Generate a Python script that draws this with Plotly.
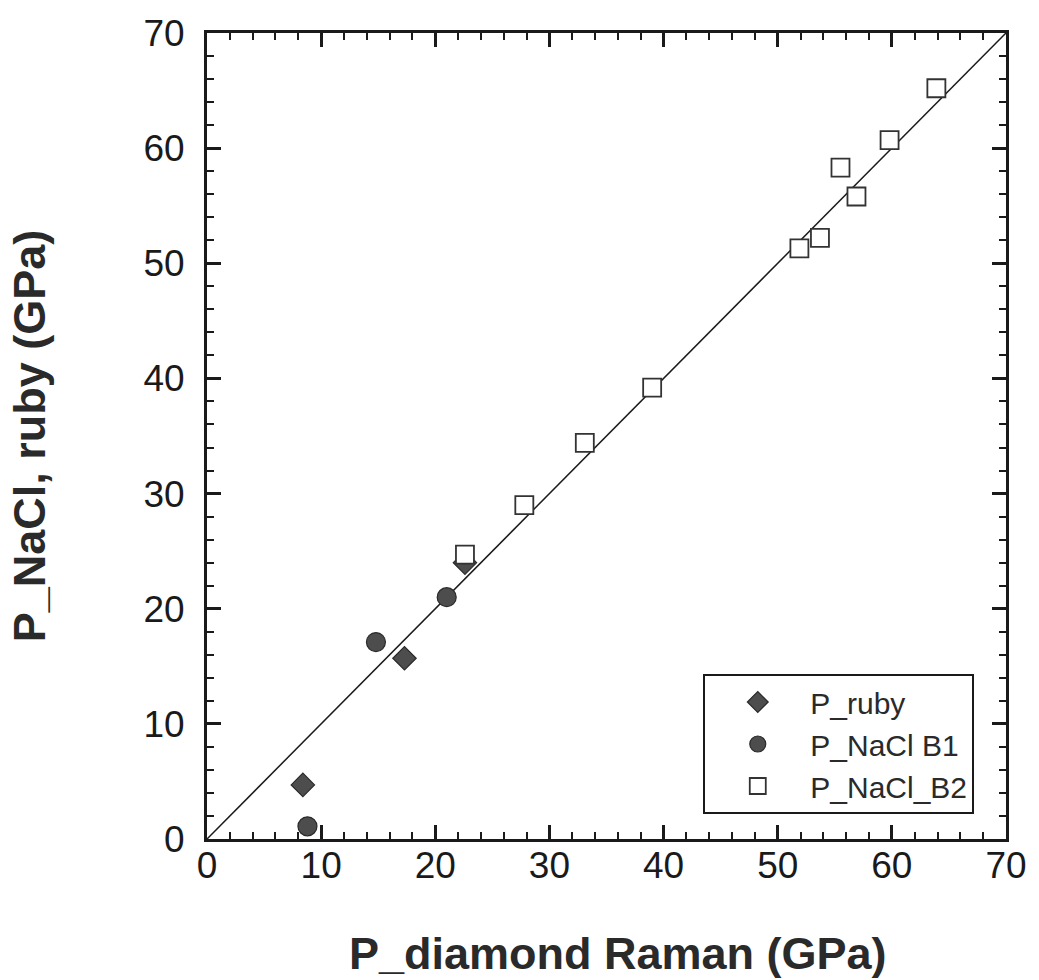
import plotly.graph_objects as go

# Ruby fluorescence pressures vs. diamond Raman pressures (GPa)
ruby_x = [8.4, 17.3, 22.6]
ruby_y = [4.7, 15.7, 24.0]

# NaCl B1-phase equation-of-state pressures
b1_x = [8.8, 14.8, 21.0]
b1_y = [1.1, 17.1, 21.0]

# NaCl B2-phase equation-of-state pressures
b2_x = [22.6, 27.8, 33.1, 39.0, 51.9, 53.7, 55.5, 56.9, 59.8, 63.9]
b2_y = [24.7, 29.0, 34.4, 39.2, 51.3, 52.2, 58.3, 55.8, 60.7, 65.2]

# 1:1 reference line
ref_x = [0, 70]
ref_y = [0, 70]

FONT = "Liberation Sans, Arial, Helvetica, sans-serif"
INK = "#1a1a1a"
FILL = "#4d4d4d"

fig = go.Figure()
fig.add_trace(go.Scatter(x=ref_x, y=ref_y, mode="lines",
                         line=dict(color=INK, width=1.5), showlegend=False,
                         hoverinfo="skip"))
fig.add_trace(go.Scatter(x=ruby_x, y=ruby_y, mode="markers", name="P_ruby",
                         marker=dict(symbol="diamond", size=18, color=FILL,
                                     line=dict(color="#2a2a2a", width=1.2))))
fig.add_trace(go.Scatter(x=b1_x, y=b1_y, mode="markers", name="P_NaCl B1",
                         marker=dict(symbol="circle", size=19, color=FILL,
                                     line=dict(color="#2a2a2a", width=1.2))))
fig.add_trace(go.Scatter(x=b2_x, y=b2_y, mode="markers", name="P_NaCl_B2",
                         marker=dict(symbol="square", size=18, color="white",
                                     line=dict(color="#333333", width=1.8))))

axis_common = dict(
    range=[0, 70], dtick=10, tick0=0,
    ticks="inside", ticklen=14, tickwidth=2.5, tickcolor=INK,
    minor=dict(ticks="inside", ticklen=7, tickwidth=2, tickcolor=INK, dtick=2),
    showline=True, linecolor=INK, linewidth=3, mirror="ticks",
    showgrid=False, zeroline=False,
    tickfont=dict(family=FONT, size=37, color=INK),
)

fig.update_xaxes(**axis_common, ticklabelstandoff=-8)
fig.update_yaxes(**axis_common, ticklabelstandoff=12)

# Axis titles
fig.add_annotation(text="<b>P_diamond Raman (GPa)</b>", xref="paper", yref="paper",
                   x=0.5 + 12 / 805, y=-(953 - 839) / 806,
                   xanchor="center", yanchor="middle", showarrow=False,
                   font=dict(family=FONT, size=45, color="#2a2a2a"))
fig.add_annotation(text="<b>P_NaCl, ruby (GPa)</b>", xref="paper", yref="paper",
                   x=-(207 - 28) / 805, y=0.5, textangle=-90,
                   xanchor="center", yanchor="middle", showarrow=False,
                   font=dict(family=FONT, size=45, color="#2a2a2a"))

fig.update_layout(
    width=1039, height=980,
    margin=dict(l=207, r=27, t=33, b=141),
    plot_bgcolor="white", paper_bgcolor="white",
    legend=dict(x=(707 - 207) / 805, y=(839 - 674) / 806, xanchor="left", yanchor="top",
                bgcolor="white", bordercolor=INK, borderwidth=2,
                font=dict(family=FONT, size=30, color="#2a2a2a"),
                itemwidth=95, tracegroupgap=0),
)

fig.write_html("out.html")
